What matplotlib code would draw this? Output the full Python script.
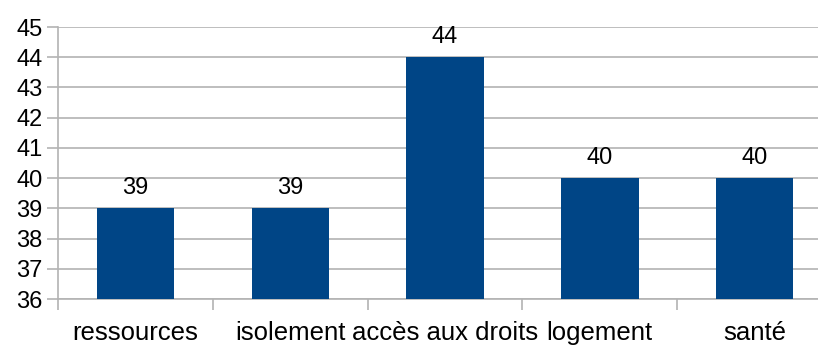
import matplotlib
matplotlib.use("Agg")
import matplotlib.pyplot as plt

categories = ["ressources", "isolement", "accès aux droits", "logement", "santé"]
values = [39, 39, 44, 40, 40]
y_ticks = list(range(36, 46))

plt.rcParams["font.family"] = ["Liberation Sans", "DejaVu Sans"]

W, H = 818, 345
fig = plt.figure(figsize=(W / 100, H / 100), dpi=100)
left, right, top, bottom = 58, 832, 27, 299
ax = fig.add_axes([left / W, 1 - bottom / H, (right - left) / W, (bottom - top) / H])

grid_c = "#b3b3b3"
bar_c = "#004586"
fs = 17
fs_cat = 18.5

x = list(range(len(categories)))
ax.bar(x, [v - 36 for v in values], bottom=36, width=0.5, color=bar_c, zorder=3)
for xi, v in zip(x, values):
    ax.annotate(str(v), (xi, v), xytext=(0, 10), textcoords="offset points",
                ha="center", va="baseline", fontsize=fs, color="black")

ax.set_xlim(-0.5, len(categories) - 0.5)
ax.set_ylim(36, 45)
ax.set_yticks(y_ticks)
ax.set_yticklabels([str(t) for t in y_ticks], fontsize=fs)
ax.yaxis.grid(True, color=grid_c, linewidth=1.2, zorder=0)

# category labels centred under each bar, ticks on the boundaries
ax.set_xticks([i - 0.5 for i in range(len(categories) + 1)])
ax.set_xticklabels([])
ax.set_xticks(x, minor=True)
ax.set_xticklabels(categories, minor=True, fontsize=fs_cat)
ax.tick_params(axis="x", which="major", length=8, color=grid_c, width=1.2, direction="out")
ax.tick_params(axis="x", which="minor", length=0, pad=16)
ax.tick_params(axis="y", length=8, color=grid_c, width=1.2, pad=3)

for s in ["top", "right"]:
    ax.spines[s].set_visible(False)
for s in ["left", "bottom"]:
    ax.spines[s].set_color(grid_c)
    ax.spines[s].set_linewidth(1.2)

fig.savefig("out.png", dpi=100)
